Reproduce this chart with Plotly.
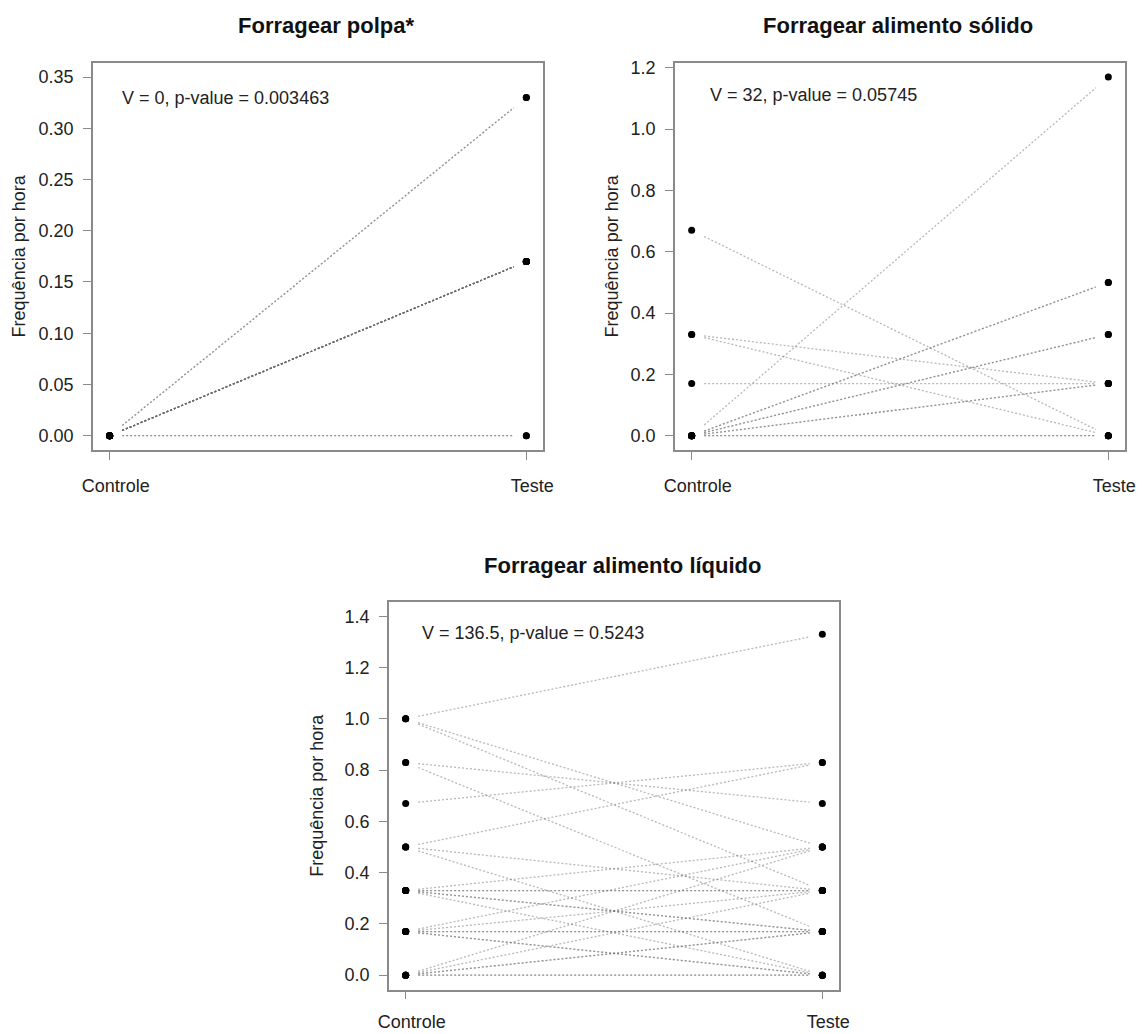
import plotly.graph_objects as go

# ---------------- data ----------------
groups = ["Controle", "Teste"]

titles = ["Forragear polpa*", "Forragear alimento sólido", "Forragear alimento líquido"]
stats = ["V = 0, p-value = 0.003463", "V = 32, p-value = 0.05745", "V = 136.5, p-value = 0.5243"]
y_label = "Frequência por hora"

# Forragear polpa (paired: Controle -> Teste)
polpa_controle = [0, 0, 0, 0, 0, 0, 0, 0, 0, 0, 0, 0]
polpa_teste = [0.33, 0.33, 0.17, 0.17, 0.17, 0.17, 0.17, 0.17, 0.17, 0.17, 0, 0]

# Forragear alimento sólido
solido_controle = [0.67, 0.33, 0.33, 0.17, 0, 0, 0, 0, 0, 0, 0, 0, 0]
solido_teste = [0, 0.17, 0, 0.17, 1.17, 0.5, 0.5, 0.33, 0.33, 0.17, 0.17, 0, 0]

# Forragear alimento líquido
liquido_controle = [1, 1, 1, 0.83, 0.83, 0.67, 0.5, 0.5, 0.5,
                    0.33, 0.33, 0.33, 0.33, 0.33, 0.33,
                    0.17, 0.17, 0.17, 0.17, 0.17, 0.17,
                    0, 0, 0, 0, 0, 0]
liquido_teste = [1.33, 0.5, 0.33, 0.67, 0.17, 0.83, 0.83, 0.33, 0,
                 0.5, 0.33, 0.33, 0.17, 0.17, 0,
                 0.5, 0.33, 0.17, 0.17, 0, 0,
                 0.5, 0.33, 0.17, 0.17, 0, 0]

y_ticks = [[0, 0.05, 0.10, 0.15, 0.20, 0.25, 0.30, 0.35],
           [0, 0.2, 0.4, 0.6, 0.8, 1.0, 1.2],
           [0, 0.2, 0.4, 0.6, 0.8, 1.0, 1.2, 1.4]]
y_tickformat = [".2f", ".1f", ".1f"]
y_ranges = [[-0.014, 0.364], [-0.0468, 1.2168], [-0.056, 1.456]]
stat_pos = [(1.025, 0.33), (1.039, 1.11), (1.034, 1.335)]

# ---------------- layout geometry (pixels) ----------------
W, H = 1142, 1034
boxes = [(93, 62.7, 543, 450), (675, 62.7, 1125, 450), (389, 602, 839, 989.5)]
title_pos = [(326, 25.5), (898, 25.5), (622, 565)]
ytitle_standoff = [8, 7, 16]
xlabel_standoff = [11, 11, 7]

data = [(polpa_controle, polpa_teste), (solido_controle, solido_teste),
        (liquido_controle, liquido_teste)]

fig = go.Figure()
line_color = "rgba(105,105,105,0.47)"
shrink = 0.03

for i, (ctrl, test) in enumerate(data):
    xa = "x" if i == 0 else f"x{i+1}"
    ya = "y" if i == 0 else f"y{i+1}"
    for c, t in zip(ctrl, test):
        fig.add_trace(go.Scatter(
            x=[1 + shrink, 2 - shrink],
            y=[c + shrink * (t - c), t - shrink * (t - c)],
            mode="lines", line=dict(color=line_color, width=1.3, dash="2px,2px"),
            xaxis=xa, yaxis=ya, hoverinfo="skip", showlegend=False))
    fig.add_trace(go.Scatter(
        x=[1] * len(ctrl) + [2] * len(test), y=list(ctrl) + list(test),
        mode="markers", marker=dict(color="black", size=7),
        xaxis=xa, yaxis=ya, showlegend=False))

axis_common = dict(showline=True, mirror=True, linecolor="#8a8a8a", linewidth=1.5,
                   showgrid=False, zeroline=False, ticks="outside", ticklen=8,
                   tickcolor="#8a8a8a", tickwidth=1.3, automargin=False,
                   tickfont=dict(size=18, color="#222", family="Liberation Sans, Arial"))

layout = dict(width=W, height=H, autosize=False,
              margin=dict(l=0, r=0, t=0, b=0, autoexpand=False),
              paper_bgcolor="white", plot_bgcolor="white", showlegend=False,
              font=dict(family="Liberation Sans, Arial", color="#222"))

annotations = []
for i in range(3):
    x0, y0, x1, y1 = boxes[i]
    sfx = "" if i == 0 else str(i + 1)
    layout["xaxis" + sfx] = dict(
        axis_common, domain=[x0 / W, x1 / W], range=[0.96, 2.04],
        tickvals=[1, 2], ticktext=groups, anchor="y" + sfx,
        ticklabelstandoff=xlabel_standoff[i], ticklabelshift=6)
    layout["yaxis" + sfx] = dict(
        axis_common, domain=[1 - y1 / H, 1 - y0 / H], range=y_ranges[i],
        tickvals=y_ticks[i], tickformat=y_tickformat[i], anchor="x" + sfx,
        ticklabelstandoff=6,
        title=dict(text=y_label, font=dict(size=18, color="#222"),
                   standoff=ytitle_standoff[i]))
    tx, ty = title_pos[i]
    annotations.append(dict(text="<b>" + titles[i] + "</b>", x=tx / W, y=1 - ty / H,
                            xref="paper", yref="paper", xanchor="center", yanchor="middle",
                            showarrow=False, font=dict(size=22, color="#111")))
    sx, sy = stat_pos[i]
    annotations.append(dict(text=stats[i], x=sx, y=sy, xref="x" + sfx, yref="y" + sfx,
                            xanchor="left", yanchor="middle", showarrow=False,
                            font=dict(size=18, color="#222")))

layout["annotations"] = annotations
fig.update_layout(**layout)

fig.write_html("out.html", config={"displayModeBar": False},
               post_script="document.body.style.margin='0';document.body.style.overflow='hidden';")
